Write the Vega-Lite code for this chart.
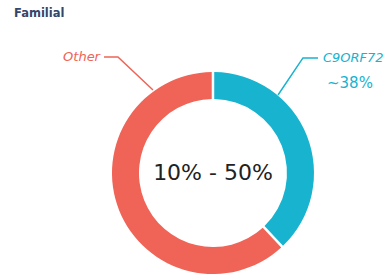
{
  "$schema": "https://vega.github.io/schema/vega-lite/v6.json",
  "autosize": "none",
  "padding": {"top": 24, "left": 0, "right": 0, "bottom": 0},
  "width": 388,
  "height": 256,
  "background": "white",
  "config": {"view": {"stroke": null}},
  "title": {"text": "Familial", "anchor": "start", "frame": "group", "fontSize": 11.5, "font": "DejaVu Sans", "fontWeight": "bold", "color": "#34466a", "offset": 5, "dx": 14},
  "datasets": {
    "slices": [
      {"group": "C9ORF72", "share": 38},
      {"group": "Other", "share": 62}
    ],
    "leaders": [
      {"group": "Other", "i": 0, "px": -1.079, "py": 1.149},
      {"group": "Other", "i": 1, "px": -0.941, "py": 1.149},
      {"group": "Other", "i": 2, "px": -0.594, "py": 0.822},
      {"group": "C9ORF72", "i": 0, "px": 1.040, "py": 1.139},
      {"group": "C9ORF72", "i": 1, "px": 0.891, "py": 1.139},
      {"group": "C9ORF72", "i": 2, "px": 0.644, "py": 0.772}
    ]
  },
  "layer": [
    {
      "data": {"name": "slices"},
      "mark": {"type": "arc", "outerRadius": 101, "innerRadius": 74, "padAngle": 0.02},
      "encoding": {
        "x": {"datum": 0, "type": "quantitative", "scale": {"domain": [-2.109, 1.733], "nice": false, "zero": false}, "axis": null},
        "y": {"datum": 0, "type": "quantitative", "scale": {"domain": [-1.059, 1.475], "nice": false, "zero": false}, "axis": null},
        "theta": {"field": "share", "type": "quantitative", "stack": true},
        "order": {"field": "group", "sort": "ascending"},
        "color": {"field": "group", "type": "nominal", "scale": {"domain": ["C9ORF72", "Other"], "range": ["#18b3cf", "#ef6457"]}, "legend": null}
      }
    },
    {
      "data": {"name": "leaders"},
      "mark": {"type": "line", "strokeWidth": 1.5},
      "encoding": {
        "x": {"field": "px", "type": "quantitative", "axis": null},
        "y": {"field": "py", "type": "quantitative", "axis": null},
        "order": {"field": "i"},
        "detail": {"field": "group"},
        "color": {"field": "group", "type": "nominal", "legend": null}
      }
    },
    {
      "data": {"values": [{"group": "Other", "text": "Other", "px": -1.119, "py": 1.149}]},
      "mark": {"type": "text", "fontSize": 13, "font": "DejaVu Sans", "fontStyle": "italic", "baseline": "middle", "align": "right"},
      "encoding": {
        "x": {"field": "px", "type": "quantitative", "axis": null},
        "y": {"field": "py", "type": "quantitative", "axis": null},
        "text": {"field": "text"},
        "color": {"field": "group", "type": "nominal", "legend": null}
      }
    },
    {
      "data": {"values": [{"group": "C9ORF72", "text": "C9ORF72", "px": 1.089, "py": 1.139}]},
      "mark": {"type": "text", "fontSize": 13, "font": "DejaVu Sans", "fontStyle": "italic", "baseline": "middle", "align": "left"},
      "encoding": {
        "x": {"field": "px", "type": "quantitative", "axis": null},
        "y": {"field": "py", "type": "quantitative", "axis": null},
        "text": {"field": "text"},
        "color": {"field": "group", "type": "nominal", "legend": null}
      }
    },
    {
      "data": {"values": [{"text": "~38%", "px": 1.356, "py": 0.891}]},
      "mark": {"type": "text", "fontSize": 15, "font": "DejaVu Sans", "align": "center", "baseline": "middle", "color": "#18b3cf"},
      "encoding": {
        "x": {"field": "px", "type": "quantitative", "axis": null},
        "y": {"field": "py", "type": "quantitative", "axis": null},
        "text": {"field": "text"}
      }
    },
    {
      "data": {"values": [{"text": "10% - 50%", "px": 0, "py": 0}]},
      "mark": {"type": "text", "fontSize": 22, "font": "DejaVu Sans", "align": "center", "baseline": "middle", "color": "#222222"},
      "encoding": {
        "x": {"field": "px", "type": "quantitative", "axis": null},
        "y": {"field": "py", "type": "quantitative", "axis": null},
        "text": {"field": "text"}
      }
    }
  ]
}
